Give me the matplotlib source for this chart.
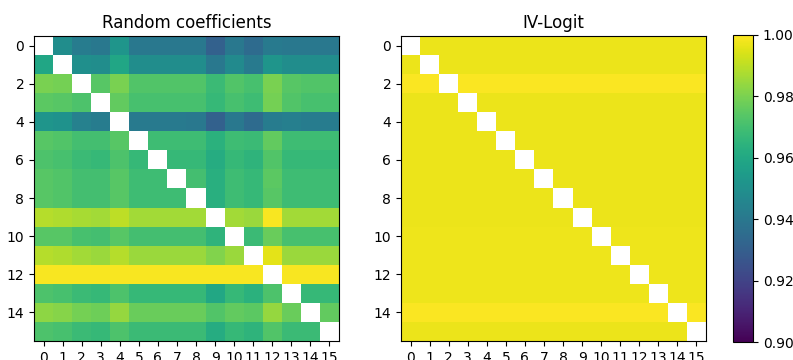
import matplotlib
matplotlib.use("Agg")
import matplotlib.pyplot as plt
import numpy as np

n = np.nan

# random coefficients model, pairwise values (diagonal left blank)
rc_matrix = [
    [n, .949, .942, .940, .952, .940, .940, .940, .940, .931, .940, .935, .941, .940, .940, .940],
    [.959, n, .950, .949, .959, .949, .949, .949, .949, .940, .948, .941, .952, .949, .949, .949],
    [.980, .979, n, .974, .980, .973, .973, .973, .973, .968, .973, .971, .980, .974, .973, .973],
    [.975, .974, .972, n, .976, .971, .971, .971, .971, .967, .971, .969, .979, .973, .971, .971],
    [.952, .951, .944, .942, n, .941, .941, .941, .940, .931, .940, .935, .942, .943, .942, .942],
    [.974, .973, .970, .970, .974, n, .969, .969, .969, .964, .969, .968, .976, .969, .969, .969],
    [.972, .971, .968, .967, .972, .967, n, .967, .967, .962, .967, .965, .973, .967, .967, .967],
    [.974, .973, .970, .970, .974, .969, .969, n, .970, .963, .969, .967, .975, .969, .969, .969],
    [.974, .973, .970, .970, .974, .969, .969, .969, n, .963, .969, .967, .974, .969, .969, .969],
    [.989, .988, .987, .986, .990, .986, .986, .986, .986, n, .986, .985, .999, .986, .986, .986],
    [.974, .974, .971, .970, .974, .970, .970, .970, .970, .965, n, .968, .977, .971, .971, .971],
    [.989, .988, .986, .985, .989, .985, .985, .985, .985, .981, .985, n, .996, .985, .985, .985],
    [.999, .999, .999, .999, .999, .999, .999, .999, .999, .999, .999, .999, n, .999, .999, .999],
    [.972, .971, .968, .967, .972, .967, .967, .967, .967, .960, .967, .964, .972, n, .967, .967],
    [.983, .982, .979, .978, .984, .977, .977, .977, .977, .973, .976, .975, .984, .977, n, .976],
    [.972, .971, .968, .967, .972, .968, .968, .968, .968, .962, .967, .965, .973, .968, .968, n],
]

# IV-Logit: every row is flat
iv_rows = [.997, .997, .9995, .997, .997, .997, .997, .997,
           .997, .997, .9975, .9975, .9975, .9975, .9995, .997]

rc = np.array(rc_matrix, dtype=float)
iv = np.tile(np.array(iv_rows)[:, None], (1, len(iv_rows)))
np.fill_diagonal(iv, np.nan)

fig = plt.figure(figsize=(7.93, 3.6), dpi=100)
ax1 = fig.add_axes([34 / 793, 19 / 360, 305 / 793, 305 / 360])
ax2 = fig.add_axes([401 / 793, 19 / 360, 305 / 793, 305 / 360])
cax = fig.add_axes([733 / 793, 18 / 360, 20 / 793, 307 / 360])

for ax, data, title in [(ax1, rc, 'Random coefficients'), (ax2, iv, 'IV-Logit')]:
    im = ax.imshow(data, cmap='viridis', vmin=0.9, vmax=1.0, aspect='auto')
    ax.set_title(title)
    ax.set_xticks(range(16))
    ax.set_yticks(range(0, 16, 2))

fig.colorbar(im, cax=cax)

fig.savefig('out.png', dpi=100)
